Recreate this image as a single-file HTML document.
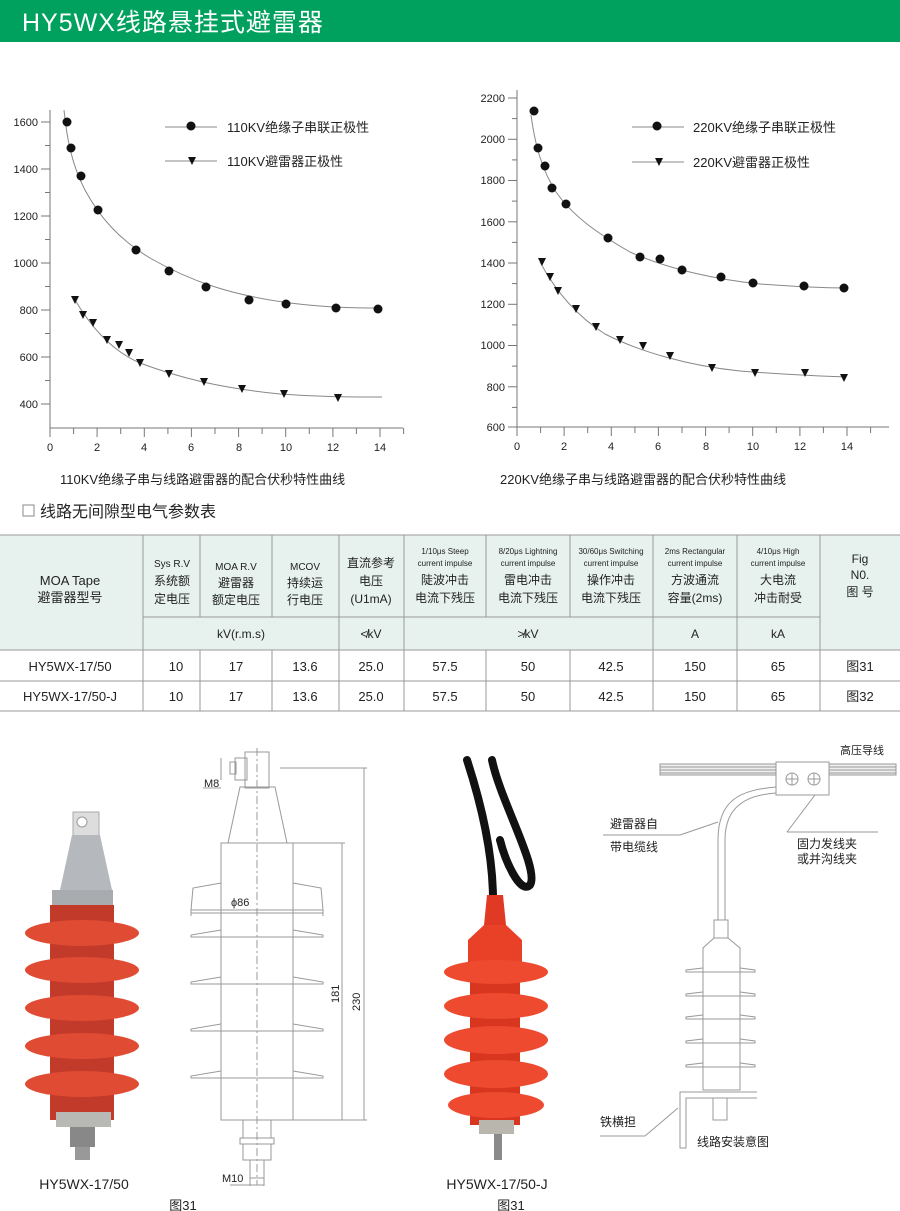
<!DOCTYPE html>
<html><head><meta charset="utf-8"><style>
body{margin:0;background:#fff}
svg{display:block}
text{font-family:"Liberation Sans","Noto Sans CJK SC",sans-serif;fill:#222}
</style></head><body>
<svg width="900" height="1211" viewBox="0 0 900 1211" xmlns="http://www.w3.org/2000/svg">
<rect x="0" y="0" width="900" height="42" fill="#00a15e"/>
<text x="22" y="31" font-size="25" fill="#fff" style="fill:#fff" letter-spacing="1">HY5WX线路悬挂式避雷器</text>

<!-- Chart 1 -->
<g stroke="#777" stroke-width="1" fill="none">
<line x1="50" y1="110" x2="50" y2="428"/>
<line x1="50" y1="428" x2="403" y2="428"/>
</g>
<g stroke="#777" stroke-width="1">
<line x1="41" y1="122" x2="50" y2="122"/><line x1="45" y1="145.5" x2="50" y2="145.5"/>
<line x1="41" y1="169" x2="50" y2="169"/><line x1="45" y1="192.5" x2="50" y2="192.5"/>
<line x1="41" y1="216" x2="50" y2="216"/><line x1="45" y1="239.5" x2="50" y2="239.5"/>
<line x1="41" y1="263" x2="50" y2="263"/><line x1="45" y1="286.5" x2="50" y2="286.5"/>
<line x1="41" y1="310" x2="50" y2="310"/><line x1="45" y1="333.5" x2="50" y2="333.5"/>
<line x1="41" y1="357" x2="50" y2="357"/><line x1="45" y1="380.5" x2="50" y2="380.5"/>
<line x1="41" y1="404" x2="50" y2="404"/>
<line x1="50" y1="428" x2="50" y2="437"/><line x1="73.6" y1="428" x2="73.6" y2="434"/>
<line x1="97.1" y1="428" x2="97.1" y2="437"/><line x1="120.7" y1="428" x2="120.7" y2="434"/>
<line x1="144.3" y1="428" x2="144.3" y2="437"/><line x1="167.9" y1="428" x2="167.9" y2="434"/>
<line x1="191.4" y1="428" x2="191.4" y2="437"/><line x1="215" y1="428" x2="215" y2="434"/>
<line x1="238.6" y1="428" x2="238.6" y2="437"/><line x1="262.1" y1="428" x2="262.1" y2="434"/>
<line x1="285.7" y1="428" x2="285.7" y2="437"/><line x1="309.3" y1="428" x2="309.3" y2="434"/>
<line x1="332.9" y1="428" x2="332.9" y2="437"/><line x1="356.4" y1="428" x2="356.4" y2="434"/>
<line x1="380" y1="428" x2="380" y2="437"/><line x1="403.6" y1="428" x2="403.6" y2="434"/>
</g>
<g font-size="11" text-anchor="end">
<text x="38" y="126">1600</text><text x="38" y="173">1400</text><text x="38" y="220">1200</text>
<text x="38" y="267">1000</text><text x="38" y="314">800</text><text x="38" y="361">600</text><text x="38" y="408">400</text>
</g>
<g font-size="11" text-anchor="middle">
<text x="50" y="451">0</text><text x="97" y="451">2</text><text x="144" y="451">4</text><text x="191" y="451">6</text>
<text x="239" y="451">8</text><text x="286" y="451">10</text><text x="333" y="451">12</text><text x="380" y="451">14</text>
</g>
<path d="M64,110 C67,140 72,165 85,190 C100,218 120,240 150,258 C190,281 230,295 290,303 C330,308 360,308 382,308" stroke="#888" fill="none"/>
<path d="M75,300 C90,325 110,350 140,363 C180,378 220,388 280,394 C320,397 350,397 382,397" stroke="#888" fill="none"/>
<g fill="#111">
<circle cx="67" cy="122" r="4.5"/><circle cx="71" cy="148" r="4.5"/><circle cx="81" cy="176" r="4.5"/>
<circle cx="98" cy="210" r="4.5"/><circle cx="136" cy="250" r="4.5"/><circle cx="169" cy="271" r="4.5"/>
<circle cx="206" cy="287" r="4.5"/><circle cx="249" cy="300" r="4.5"/><circle cx="286" cy="304" r="4.5"/>
<circle cx="336" cy="308" r="4.5"/><circle cx="378" cy="309" r="4.5"/>
</g>
<g fill="#111" id="tri1">
<path d="M71,296h8l-4,8z"/><path d="M79,311h8l-4,8z"/><path d="M89,319h8l-4,8z"/><path d="M103,336h8l-4,8z"/>
<path d="M115,341h8l-4,8z"/><path d="M125,349h8l-4,8z"/><path d="M136,359h8l-4,8z"/><path d="M165,370h8l-4,8z"/>
<path d="M200,378h8l-4,8z"/><path d="M238,385h8l-4,8z"/><path d="M280,390h8l-4,8z"/><path d="M334,394h8l-4,8z"/>
</g>
<line x1="165" y1="127" x2="217" y2="127" stroke="#888"/><circle cx="191" cy="126" r="4.5" fill="#111"/>
<line x1="165" y1="161" x2="217" y2="161" stroke="#888"/><path d="M188,157h8l-4,8z" fill="#111"/>
<text x="227" y="132" font-size="13">110KV绝缘子串联正极性</text>
<text x="227" y="166" font-size="13">110KV避雷器正极性</text>

<!-- Chart 2 -->
<g stroke="#777" stroke-width="1" fill="none">
<line x1="517" y1="90" x2="517" y2="427"/>
<line x1="517" y1="427" x2="889" y2="427"/>
</g>
<g stroke="#777">
<line x1="508" y1="98" x2="517" y2="98"/><line x1="512" y1="118.6" x2="517" y2="118.6"/>
<line x1="508" y1="139.3" x2="517" y2="139.3"/><line x1="512" y1="159.9" x2="517" y2="159.9"/>
<line x1="508" y1="180.5" x2="517" y2="180.5"/><line x1="512" y1="201.1" x2="517" y2="201.1"/>
<line x1="508" y1="221.8" x2="517" y2="221.8"/><line x1="512" y1="242.4" x2="517" y2="242.4"/>
<line x1="508" y1="263" x2="517" y2="263"/><line x1="512" y1="283.6" x2="517" y2="283.6"/>
<line x1="508" y1="304.3" x2="517" y2="304.3"/><line x1="512" y1="324.9" x2="517" y2="324.9"/>
<line x1="508" y1="345.5" x2="517" y2="345.5"/><line x1="512" y1="366.1" x2="517" y2="366.1"/>
<line x1="508" y1="386.8" x2="517" y2="386.8"/><line x1="512" y1="407.4" x2="517" y2="407.4"/>
<line x1="508" y1="427" x2="517" y2="427"/>
<line x1="517" y1="427" x2="517" y2="436"/><line x1="540.6" y1="427" x2="540.6" y2="433"/>
<line x1="564.1" y1="427" x2="564.1" y2="436"/><line x1="587.7" y1="427" x2="587.7" y2="433"/>
<line x1="611.3" y1="427" x2="611.3" y2="436"/><line x1="634.9" y1="427" x2="634.9" y2="433"/>
<line x1="658.4" y1="427" x2="658.4" y2="436"/><line x1="682" y1="427" x2="682" y2="433"/>
<line x1="705.6" y1="427" x2="705.6" y2="436"/><line x1="729.1" y1="427" x2="729.1" y2="433"/>
<line x1="752.7" y1="427" x2="752.7" y2="436"/><line x1="776.3" y1="427" x2="776.3" y2="433"/>
<line x1="799.9" y1="427" x2="799.9" y2="436"/><line x1="823.4" y1="427" x2="823.4" y2="433"/>
<line x1="847" y1="427" x2="847" y2="436"/><line x1="870.6" y1="427" x2="870.6" y2="433"/>
</g>
<g font-size="11" text-anchor="end">
<text x="505" y="102">2200</text><text x="505" y="143">2000</text><text x="505" y="184">1800</text>
<text x="505" y="226">1600</text><text x="505" y="267">1400</text><text x="505" y="308">1200</text>
<text x="505" y="349">1000</text><text x="505" y="391">800</text><text x="505" y="431">600</text>
</g>
<g font-size="11" text-anchor="middle">
<text x="517" y="450">0</text><text x="564" y="450">2</text><text x="611" y="450">4</text><text x="658" y="450">6</text>
<text x="706" y="450">8</text><text x="753" y="450">10</text><text x="800" y="450">12</text><text x="847" y="450">14</text>
</g>
<path d="M531,115 C535,145 542,170 556,192 C572,215 595,232 630,252 C670,270 720,280 760,284 C800,287 830,288 846,288" stroke="#888" fill="none"/>
<path d="M540,262 C555,290 575,315 605,334 C640,352 690,366 740,371 C790,375 820,376 846,377" stroke="#888" fill="none"/>
<g fill="#111">
<circle cx="534" cy="111" r="4.5"/><circle cx="538" cy="148" r="4.5"/><circle cx="545" cy="166" r="4.5"/>
<circle cx="552" cy="188" r="4.5"/><circle cx="566" cy="204" r="4.5"/><circle cx="608" cy="238" r="4.5"/>
<circle cx="640" cy="257" r="4.5"/><circle cx="660" cy="259" r="4.5"/><circle cx="682" cy="270" r="4.5"/>
<circle cx="721" cy="277" r="4.5"/><circle cx="753" cy="283" r="4.5"/><circle cx="804" cy="286" r="4.5"/>
<circle cx="844" cy="288" r="4.5"/>
</g>
<g fill="#111">
<path d="M538,258h8l-4,8z"/><path d="M546,273h8l-4,8z"/><path d="M554,287h8l-4,8z"/><path d="M572,305h8l-4,8z"/>
<path d="M592,323h8l-4,8z"/><path d="M616,336h8l-4,8z"/><path d="M639,342h8l-4,8z"/><path d="M666,352h8l-4,8z"/>
<path d="M708,364h8l-4,8z"/><path d="M751,369h8l-4,8z"/><path d="M801,369h8l-4,8z"/><path d="M840,374h8l-4,8z"/>
</g>
<line x1="632" y1="127" x2="684" y2="127" stroke="#888"/><circle cx="657" cy="126" r="4.5" fill="#111"/>
<line x1="632" y1="162" x2="684" y2="162" stroke="#888"/><path d="M655,158h8l-4,8z" fill="#111"/>
<text x="693" y="132" font-size="13">220KV绝缘子串联正极性</text>
<text x="693" y="167" font-size="13">220KV避雷器正极性</text>

<text x="60" y="484" font-size="13">110KV绝缘子串与线路避雷器的配合伏秒特性曲线</text>
<text x="500" y="484" font-size="13">220KV绝缘子串与线路避雷器的配合伏秒特性曲线</text>
<rect x="23" y="505" width="11" height="11" fill="none" stroke="#888"/>
<text x="40" y="517" font-size="16">线路无间隙型电气参数表</text>

<!-- Table -->
<rect x="0" y="535" width="900" height="115" fill="#e7f2ef"/>
<g stroke="#999" stroke-width="1">
<line x1="0" y1="535" x2="900" y2="535"/><line x1="143" y1="617" x2="820" y2="617"/>
<line x1="0" y1="650" x2="900" y2="650"/><line x1="0" y1="681" x2="900" y2="681"/><line x1="0" y1="711" x2="900" y2="711"/>
<line x1="143" y1="535" x2="143" y2="711"/>
<line x1="200" y1="535" x2="200" y2="617"/><line x1="200" y1="650" x2="200" y2="711"/>
<line x1="272" y1="535" x2="272" y2="617"/><line x1="272" y1="650" x2="272" y2="711"/>
<line x1="339" y1="535" x2="339" y2="711"/><line x1="404" y1="535" x2="404" y2="711"/>
<line x1="486" y1="535" x2="486" y2="617"/><line x1="486" y1="650" x2="486" y2="711"/>
<line x1="570" y1="535" x2="570" y2="617"/><line x1="570" y1="650" x2="570" y2="711"/>
<line x1="653" y1="535" x2="653" y2="711"/><line x1="737" y1="535" x2="737" y2="711"/><line x1="820" y1="535" x2="820" y2="711"/>
</g>
<g text-anchor="middle" font-size="12">
<text x="70" y="585" font-size="13">MOA Tape</text><text x="70" y="602" font-size="13">避雷器型号</text>
<text x="172" y="567" font-size="10">Sys R.V</text><text x="172" y="585">系统额</text><text x="172" y="603">定电压</text>
<text x="236" y="570" font-size="10">MOA R.V</text><text x="236" y="587">避雷器</text><text x="236" y="604">额定电压</text>
<text x="305" y="570" font-size="10">MCOV</text><text x="305" y="587">持续运</text><text x="305" y="604">行电压</text>
<text x="371" y="567">直流参考</text><text x="371" y="585">电压</text><text x="371" y="603">(U1mA)</text>
<text x="445" y="554" font-size="8">1/10μs Steep</text><text x="445" y="566" font-size="8">current impulse</text><text x="445" y="584">陡波冲击</text><text x="445" y="602">电流下残压</text>
<text x="528" y="554" font-size="8">8/20μs Lightning</text><text x="528" y="566" font-size="8">current impulse</text><text x="528" y="584">雷电冲击</text><text x="528" y="602">电流下残压</text>
<text x="611" y="554" font-size="8">30/60μs Switching</text><text x="611" y="566" font-size="8">current impulse</text><text x="611" y="584">操作冲击</text><text x="611" y="602">电流下残压</text>
<text x="695" y="554" font-size="8">2ms Rectangular</text><text x="695" y="566" font-size="8">current impulse</text><text x="695" y="584">方波通流</text><text x="695" y="602">容量(2ms)</text>
<text x="778" y="554" font-size="8">4/10μs High</text><text x="778" y="566" font-size="8">current impulse</text><text x="778" y="584">大电流</text><text x="778" y="602">冲击耐受</text>
<text x="860" y="563">Fig</text><text x="860" y="579">N0.</text><text x="860" y="596">图 号</text>
<text x="241" y="638">kV(r.m.s)</text><text x="371" y="638">≮kV</text><text x="528" y="638">≯kV</text>
<text x="695" y="638">A</text><text x="778" y="638">kA</text>
<g font-size="13">
<text x="70" y="671">HY5WX-17/50</text><text x="176" y="671">10</text><text x="236" y="671">17</text><text x="305" y="671">13.6</text>
<text x="371" y="671">25.0</text><text x="445" y="671">57.5</text><text x="528" y="671">50</text><text x="611" y="671">42.5</text>
<text x="695" y="671">150</text><text x="778" y="671">65</text><text x="860" y="671">图31</text>
<text x="70" y="701">HY5WX-17/50-J</text><text x="176" y="701">10</text><text x="236" y="701">17</text><text x="305" y="701">13.6</text>
<text x="371" y="701">25.0</text><text x="445" y="701">57.5</text><text x="528" y="701">50</text><text x="611" y="701">42.5</text>
<text x="695" y="701">150</text><text x="778" y="701">65</text><text x="860" y="701">图32</text>
</g>
</g>

<!-- Photo 1 -->
<path d="M73,812 h26 v25 h-26z" fill="#ddd" stroke="#aaa"/>
<circle cx="82" cy="822" r="5" fill="#fff" stroke="#999"/>
<path d="M72,835 L100,835 L112,890 L60,890 Z" fill="#b5b9be"/>
<rect x="52" y="890" width="61" height="15" fill="#a9acae"/>
<rect x="50" y="905" width="64" height="215" fill="#c23a2a"/>
<g fill="#e04b33">
<ellipse cx="82" cy="933" rx="57" ry="13"/><ellipse cx="82" cy="970" rx="57" ry="13"/>
<ellipse cx="82" cy="1008" rx="57" ry="13"/><ellipse cx="82" cy="1046" rx="57" ry="13"/><ellipse cx="82" cy="1084" rx="57" ry="13"/>
</g>
<rect x="56" y="1112" width="55" height="15" fill="#b8b8b4"/>
<rect x="70" y="1127" width="25" height="20" fill="#888"/>
<rect x="75" y="1147" width="15" height="13" fill="#999"/>
<text x="84" y="1189" font-size="14" text-anchor="middle">HY5WX-17/50</text>
<text x="183" y="1210" font-size="13" text-anchor="middle">图31</text>

<!-- Drawing 1 -->
<g stroke="#999" fill="none" stroke-width="1">
<line x1="257" y1="748" x2="257" y2="1185" stroke-dasharray="8,3,2,3"/>
<rect x="245" y="752" width="24" height="36"/><rect x="235" y="758" width="12" height="22"/><rect x="230" y="762" width="6" height="12"/>
<path d="M240,787 L275,787 L287,843 L228,843 Z"/>
<rect x="221" y="843" width="72" height="277"/>
<path d="M221,883 L193,888 L191,910 L323,910 L321,888 L293,883"/>
<path d="M221,930 L191,935 L191,937 L323,937 L323,935 L293,930"/>
<path d="M221,977 L191,982 L191,984 L323,984 L323,982 L293,977"/>
<path d="M221,1024 L191,1029 L191,1031 L323,1031 L323,1029 L293,1024"/>
<path d="M221,1071 L191,1076 L191,1078 L323,1078 L323,1076 L293,1071"/>
<rect x="243" y="1120" width="28" height="18"/><rect x="240" y="1138" width="34" height="6"/><rect x="243" y="1144" width="28" height="16"/>
<rect x="250" y="1160" width="14" height="18"/>
<line x1="191" y1="910" x2="191" y2="916"/><line x1="323" y1="910" x2="323" y2="916"/><line x1="191" y1="913" x2="323" y2="913"/>
<line x1="293" y1="843" x2="345" y2="843"/><line x1="293" y1="1120" x2="367" y2="1120"/><line x1="280" y1="768" x2="367" y2="768"/>
<line x1="342" y1="843" x2="342" y2="1120"/><line x1="364" y1="768" x2="364" y2="1120"/>
<line x1="221" y1="758" x2="221" y2="780"/><line x1="203" y1="788" x2="221" y2="788"/>
<line x1="250" y1="1178" x2="250" y2="1186"/><line x1="264" y1="1178" x2="264" y2="1186"/><line x1="230" y1="1185" x2="264" y2="1185"/>
</g>
<text x="204" y="787" font-size="11">M8</text>
<text x="231" y="906" font-size="11">ϕ86</text>
<text x="222" y="1182" font-size="11">M10</text>
<text font-size="11" transform="translate(339,1003) rotate(-90)">181</text>
<text font-size="11" transform="translate(360,1011) rotate(-90)">230</text>

<!-- Photo 2 -->
<g stroke="#111" stroke-width="8" fill="none" stroke-linecap="round">
<path d="M467,760 C480,800 493,850 493,900"/>
<path d="M492,760 C500,800 540,870 530,885 C520,895 505,860 500,840"/>
</g>
<path d="M487,895 L503,895 L506,925 L484,925 Z" fill="#e03a25"/>
<path d="M484,925 L506,925 L522,940 L522,970 L468,970 L468,940 Z" fill="#e84128"/>
<rect x="470" y="965" width="50" height="160" fill="#d8361f"/>
<g fill="#ee4a30">
<ellipse cx="496" cy="972" rx="52" ry="12"/><ellipse cx="496" cy="1006" rx="52" ry="13"/>
<ellipse cx="496" cy="1040" rx="52" ry="14"/><ellipse cx="496" cy="1074" rx="52" ry="14"/><ellipse cx="496" cy="1105" rx="48" ry="13"/>
</g>
<rect x="479" y="1120" width="35" height="14" fill="#b9b6ae"/>
<rect x="494" y="1134" width="8" height="26" fill="#8a8a88"/>
<text x="497" y="1189" font-size="14" text-anchor="middle">HY5WX-17/50-J</text>
<text x="511" y="1210" font-size="13" text-anchor="middle">图31</text>

<!-- Install drawing -->
<g stroke="#999" fill="none" stroke-width="1">
<rect x="660" y="764" width="236" height="11" fill="#eee"/>
<line x1="660" y1="767" x2="896" y2="767"/><line x1="660" y1="770" x2="896" y2="770"/><line x1="660" y1="773" x2="896" y2="773"/>
<rect x="776" y="762" width="53" height="33" fill="#fff"/>
<circle cx="792" cy="779" r="6"/><circle cx="814" cy="779" r="6"/>
<line x1="786" y1="779" x2="798" y2="779"/><line x1="792" y1="773" x2="792" y2="785"/>
<line x1="808" y1="779" x2="820" y2="779"/><line x1="814" y1="773" x2="814" y2="785"/>
<path d="M776,787 C740,790 718,800 718,840 L718,920"/>
<path d="M776,793 C748,795 725,805 725,840 L725,920"/>
<rect x="714" y="920" width="14" height="18"/>
<path d="M714,938 L703,948 L703,1090 L740,1090 L740,948 L728,938"/>
<path d="M703,968 L686,970 L686,972 L755,972 L755,970 L740,968"/>
<path d="M703,992 L686,994 L686,996 L755,996 L755,994 L740,992"/>
<path d="M703,1015 L686,1017 L686,1019 L755,1019 L755,1017 L740,1015"/>
<path d="M703,1039 L686,1041 L686,1043 L755,1043 L755,1041 L740,1039"/>
<path d="M703,1063 L686,1065 L686,1067 L755,1067 L755,1065 L740,1063"/>
<path d="M757,1092 L680,1092 L680,1148 L686,1148 L686,1098 L757,1098"/>
<rect x="713" y="1098" width="14" height="22"/>
<line x1="603" y1="835" x2="680" y2="835"/><line x1="680" y1="835" x2="718" y2="822"/>
<line x1="787" y1="832" x2="878" y2="832"/><line x1="787" y1="832" x2="815" y2="795"/>
<line x1="600" y1="1136" x2="645" y2="1136"/><line x1="645" y1="1136" x2="678" y2="1108"/>
</g>
<text x="840" y="754" font-size="11">高压导线</text>
<text x="610" y="828" font-size="12">避雷器自</text>
<text x="610" y="851" font-size="12">带电缆线</text>
<text x="797" y="848" font-size="12">固力发线夹</text>
<text x="797" y="863" font-size="12">或并沟线夹</text>
<text x="600" y="1126" font-size="12">铁横担</text>
<text x="697" y="1146" font-size="12">线路安装意图</text>
</svg>
</body></html>
